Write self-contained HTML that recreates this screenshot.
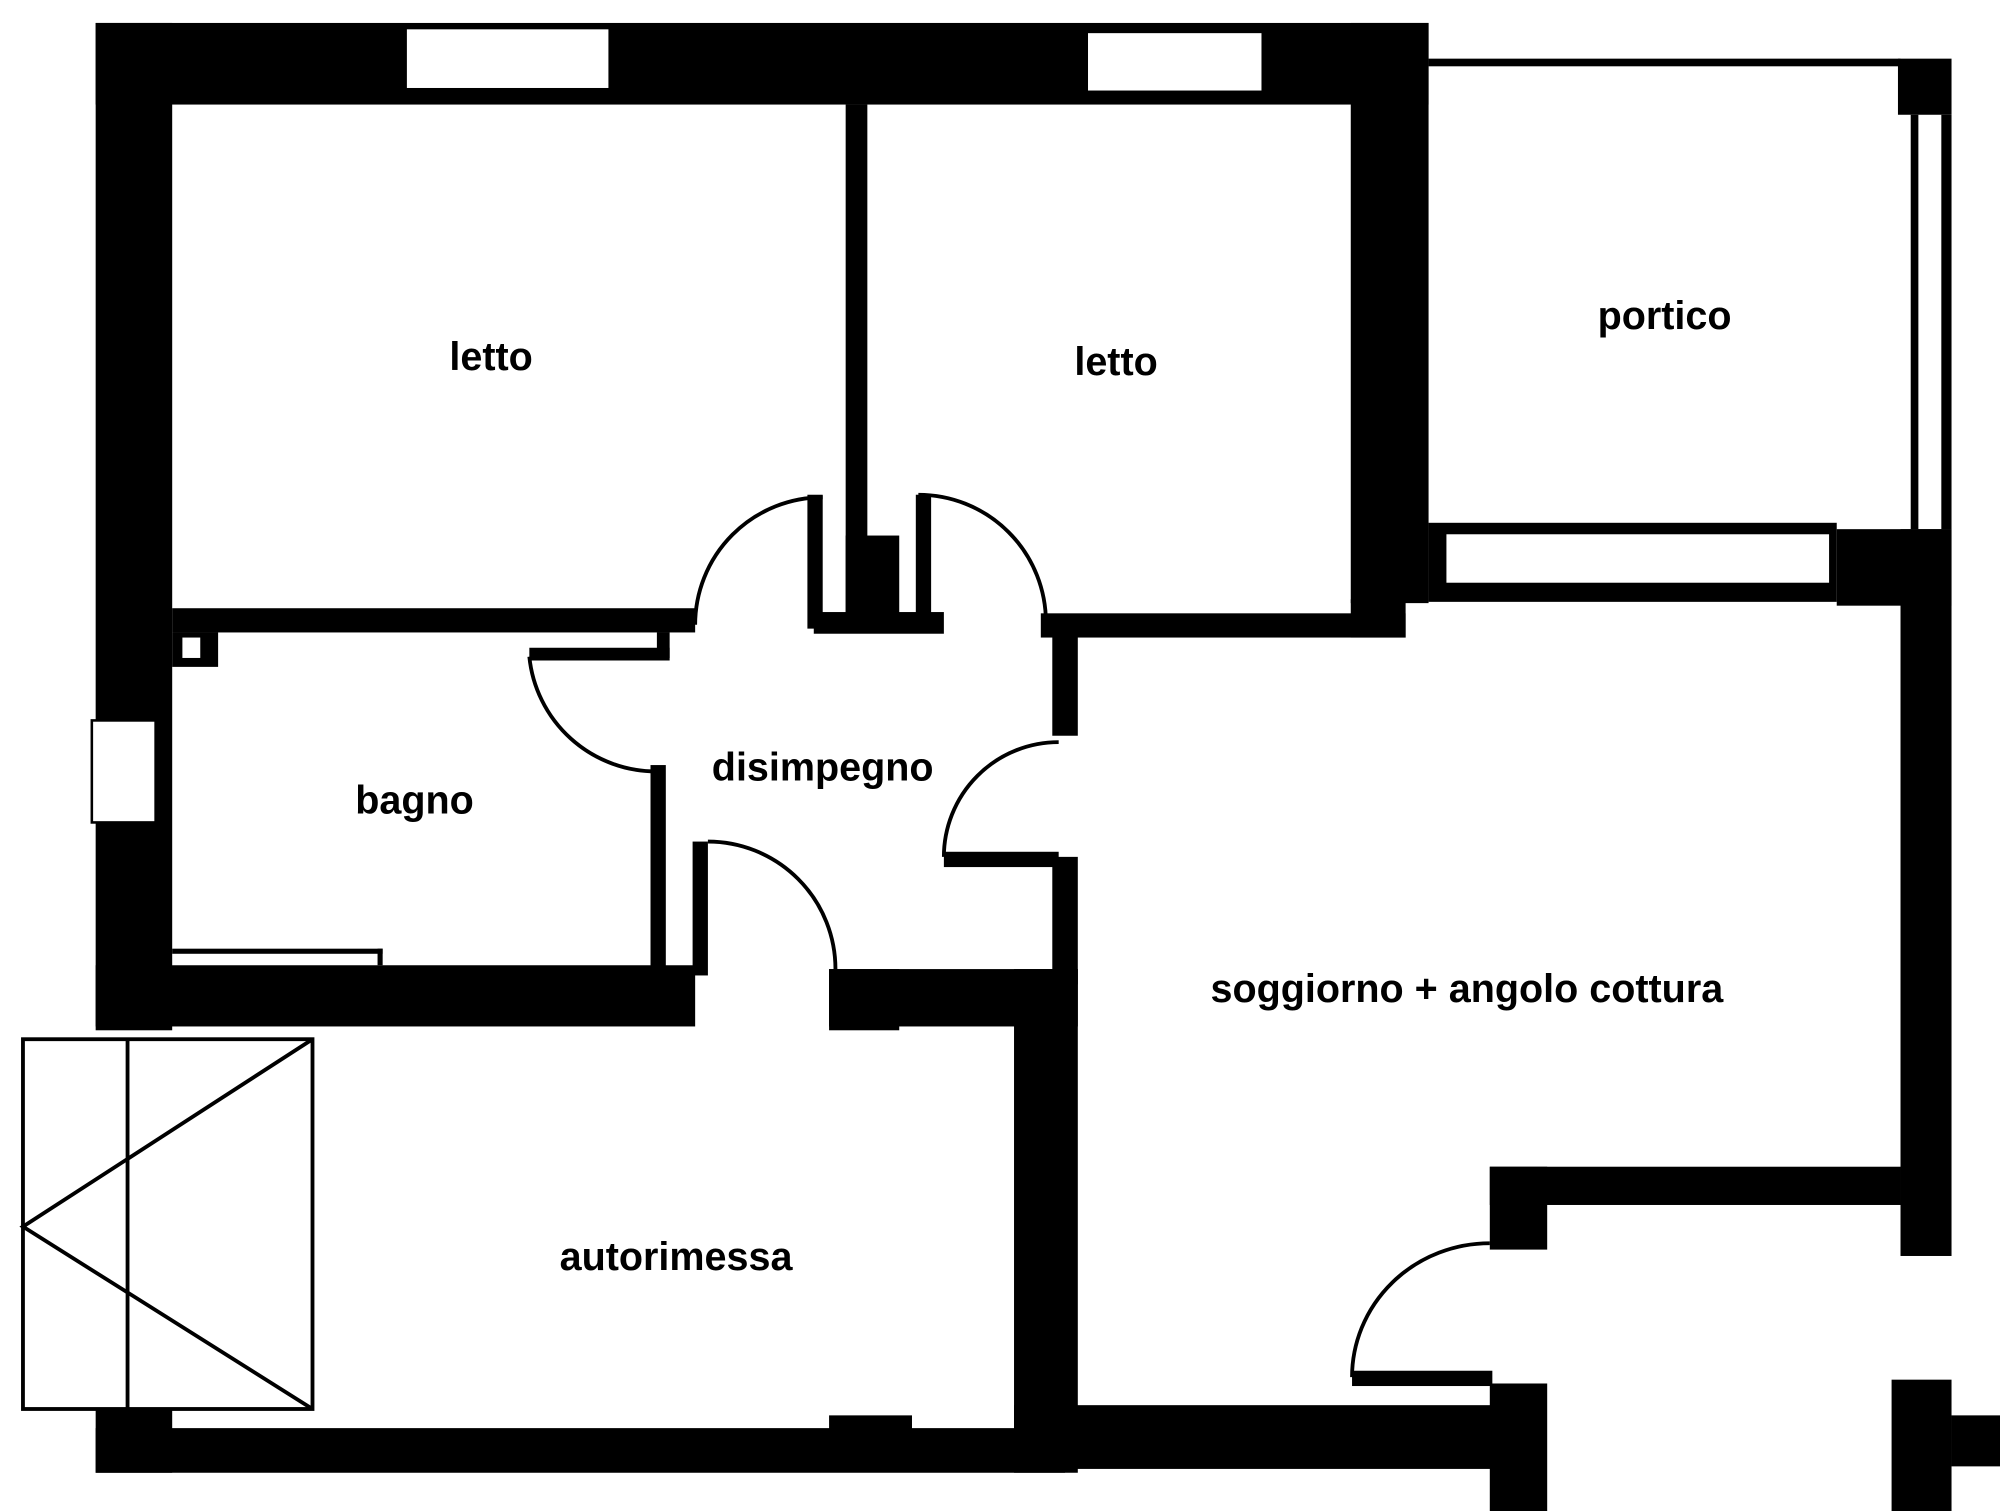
<!DOCTYPE html>
<html><head><meta charset="utf-8"><style>
html,body{margin:0;padding:0;background:#fff;}
svg{display:block;}
text{font-family:"Liberation Sans",sans-serif;font-weight:bold;font-size:31px;fill:#000;text-anchor:middle;}
</style></head><body>
<svg width="2000" height="1511" viewBox="0 0 1568 1185" preserveAspectRatio="none" xmlns="http://www.w3.org/2000/svg">
<rect width="1568" height="1185" fill="#fff"/>
<g fill="#000">
<!-- top wall -->
<rect x="75" y="18" width="1045" height="64"/>
<!-- left wall -->
<rect x="75" y="18" width="60" height="790"/>
<rect x="75" y="1105" width="60" height="50"/>
<!-- letto divider -->
<rect x="663" y="82" width="17" height="410"/>
<rect x="663" y="420" width="42" height="75"/>
<rect x="638" y="480" width="102" height="17"/>
<!-- letto2 right wall -->
<rect x="1059" y="18" width="61" height="455"/>
<rect x="1059" y="470" width="43" height="30"/>
<!-- letto1 bottom -->
<rect x="135" y="477" width="410" height="19"/>
<rect x="135" y="496" width="36" height="27"/>
<!-- letto2 bottom -->
<rect x="816" y="481" width="286" height="19"/>
<!-- portico -->
<rect x="1120" y="46" width="370" height="6"/>
<rect x="1488" y="46" width="42" height="44"/>
<rect x="1498" y="90" width="6" height="325"/>
<rect x="1522" y="90" width="8" height="325"/>
<rect x="1120" y="410" width="320" height="62"/>
<rect x="1440" y="415" width="90" height="60"/>
<rect x="1490" y="415" width="40" height="570"/>
<!-- bagno -->
<rect x="510" y="600" width="12" height="165"/>
<rect x="75" y="757" width="470" height="48"/>
<rect x="135" y="744" width="165" height="4"/>
<rect x="296" y="744" width="4" height="13"/>
<!-- bagno door -->
<rect x="415" y="508" width="110" height="10"/>
<rect x="515" y="496" width="10" height="20"/>
<!-- disimpegno -->
<rect x="543" y="660" width="12" height="105"/>
<rect x="650" y="760" width="195" height="45"/>
<rect x="650" y="760" width="55" height="48"/>
<rect x="825" y="497" width="20" height="80"/>
<rect x="825" y="672" width="20" height="100"/>
<rect x="740" y="668" width="90" height="12"/>
<rect x="633" y="388" width="12" height="105"/>
<rect x="718" y="388" width="12" height="105"/>
<!-- soggiorno left / autorimessa right -->
<rect x="795" y="760" width="50" height="395"/>
<!-- bottom wall -->
<rect x="75" y="1120" width="760" height="35"/>
<rect x="650" y="1110" width="65" height="20"/>
<rect x="795" y="1102" width="415" height="50"/>
<rect x="1168" y="1085" width="45" height="100"/>
<rect x="1168" y="915" width="45" height="65"/>
<rect x="1168" y="915" width="322" height="30"/>
<rect x="1060" y="1075" width="110" height="12"/>
<!-- bottom right -->
<rect x="1483" y="1082" width="47" height="103"/>
<rect x="1530" y="1110" width="38" height="40"/>
</g>
<!-- windows -->
<rect x="318" y="22" width="160" height="48" fill="#fff" stroke="#000" stroke-width="2"/>
<rect x="852" y="25" width="138" height="47" fill="#fff" stroke="#000" stroke-width="2"/>
<rect x="1133" y="418" width="302" height="40" fill="#fff" stroke="#000" stroke-width="2"/>
<rect x="72" y="565" width="50" height="80" fill="#fff" stroke="#000" stroke-width="2"/>
<line x1="128" y1="565" x2="128" y2="645" stroke="#000" stroke-width="3"/>
<rect x="143" y="500" width="14" height="16" fill="#fff"/>
<!-- door arcs -->
<g fill="none" stroke="#000" stroke-width="3">
<path d="M415 515 A100 100 0 0 0 515 605"/>
<path d="M645 390 A100 100 0 0 0 545 490"/>
<path d="M720 388 A100 100 0 0 1 820 488"/>
<path d="M830 582 A90 90 0 0 0 740 672"/>
<path d="M555 660 A100 100 0 0 1 655 760"/>
<path d="M1168 975 A108 105 0 0 0 1060 1080"/>
<!-- garage door -->
<rect x="18" y="815" width="227" height="290"/>
<line x1="100" y1="815" x2="100" y2="1105"/>
<polyline points="245,815 18,962 245,1105"/>
</g>
<text x="385" y="290">letto</text>
<text x="875" y="294">letto</text>
<text x="1305" y="258">portico</text>
<text x="325" y="638">bagno</text>
<text x="645" y="612">disimpegno</text>
<text x="1150" y="786">soggiorno + angolo cottura</text>
<text x="530" y="996">autorimessa</text>
</svg>
</body></html>
